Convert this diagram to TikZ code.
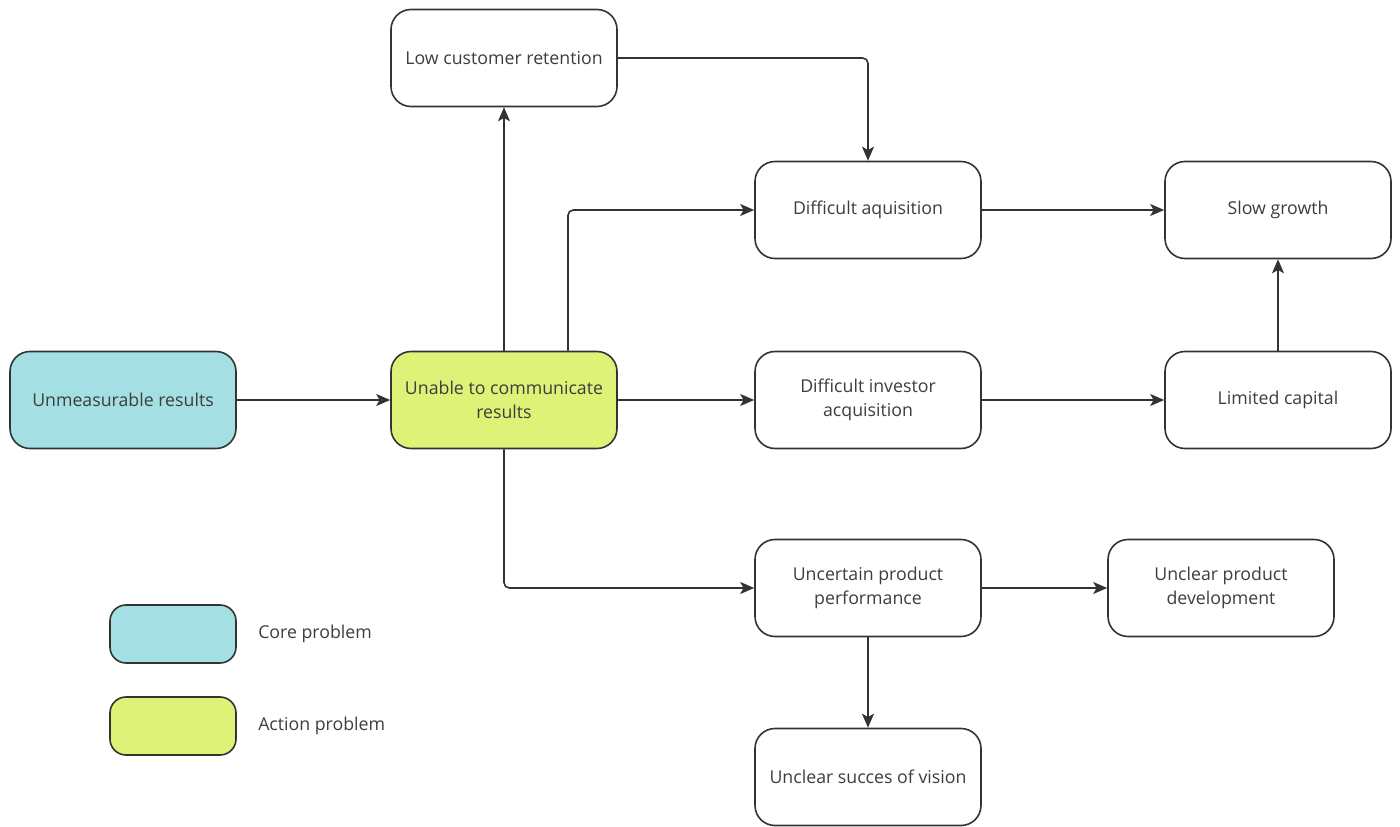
\documentclass[tikz,border=0pt]{standalone}
\usepackage{fontspec}
\setmainfont{Open Sans}
\usetikzlibrary{arrows.meta}
\definecolor{corecol}{HTML}{A3DFE3}
\definecolor{actcol}{HTML}{DDF277}
\definecolor{linecol}{HTML}{333333}
\definecolor{txtcol}{HTML}{3D3D3D}
\begin{document}
\begin{tikzpicture}[x=0.75pt,y=-0.75pt,
  box/.style={draw=linecol,line width=1.2pt,rounded corners=15pt,fill=white,
    minimum width=169.5pt,minimum height=72.75pt,align=center,
    font=\fontsize{13.3}{18}\selectfont,text=txtcol,inner sep=2pt},
  legbox/.style={draw=linecol,line width=1.2pt,rounded corners=12pt,
    minimum width=94.5pt,minimum height=43.5pt},
  legtxt/.style={anchor=west,font=\fontsize{13.3}{18}\selectfont,text=txtcol,inner sep=0pt},
  arr/.style={draw=linecol,line width=1.2pt,rounded corners=4pt,
    -{Stealth[length=10.5pt,width=9pt,inset=2.5pt]}}]
\useasboundingbox (0,0) rectangle (1400,827);
\node[box] (low) at (504,58) {Low customer retention};
\node[box] (diff) at (868,210) {Difficult aquisition};
\node[box] (slow) at (1278,210) {Slow growth};
\node[box,fill=corecol] (unm) at (123,400) {Unmeasurable results};
\node[box,fill=actcol] (una) at (504,400) {Unable to communicate\\results};
\node[box] (inv) at (868,400) {Difficult investor\\acquisition};
\node[box] (lim) at (1278,400) {Limited capital};
\node[box] (unc) at (868,588) {Uncertain product\\performance};
\node[box] (dev) at (1221,588) {Unclear product\\development};
\node[box] (vis) at (868,777) {Unclear succes of vision};
\node[legbox,fill=corecol] (lcore) at (173,634) {};
\node[legbox,fill=actcol] (lact) at (173,726) {};
\node[legtxt] (tcore) at (258,634) {Core problem};
\node[legtxt] (tact) at (258,726) {Action problem};
\draw[arr] (unm.east) -- (una.west);
\draw[arr] (una.north) -- (low.south);
\draw[arr] ([xshift=48pt]una.north) |- (diff.west);
\draw[arr] (low.east) -| (diff.north);
\draw[arr] (diff.east) -- (slow.west);
\draw[arr] (una.east) -- (inv.west);
\draw[arr] (inv.east) -- (lim.west);
\draw[arr] (lim.north) -- (slow.south);
\draw[arr] (una.south) |- (unc.west);
\draw[arr] (unc.east) -- (dev.west);
\draw[arr] (unc.south) -- (vis.north);
\end{tikzpicture}
\end{document}
